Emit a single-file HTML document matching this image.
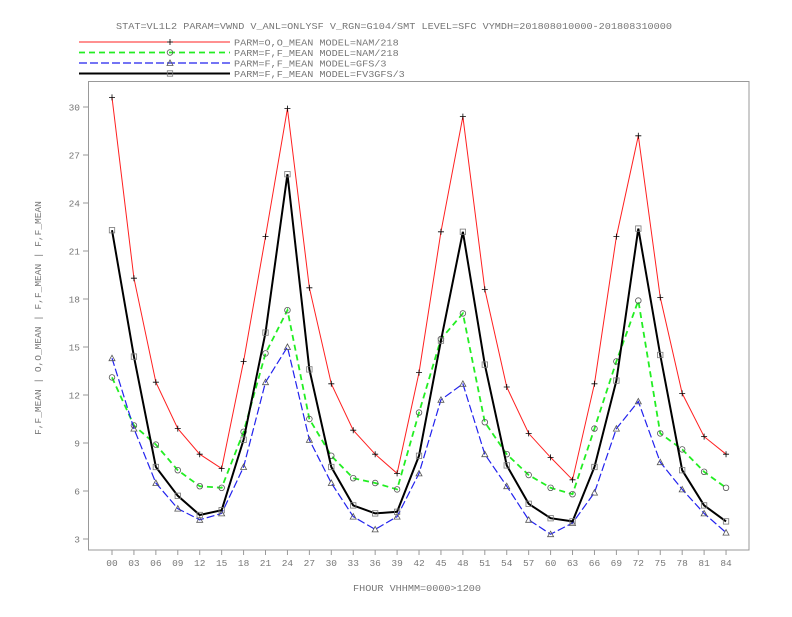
<!DOCTYPE html>
<html><head><meta charset="utf-8"><style>
body{margin:0;background:#fff}
svg text{font-family:"Liberation Mono",monospace;fill:#777;font-size:9.5px}
</style></head><body>
<svg id="c" width="792" height="612">
<text x="116" y="29" textLength="556" lengthAdjust="spacingAndGlyphs">STAT=VL1L2 PARAM=VWND V_ANL=ONLYSF V_RGN=G104/SMT LEVEL=SFC VYMDH=201808010000-201808310000</text>
<g id="legend"></g>
<rect x="88.5" y="81.5" width="660.5" height="468.5" fill="none" stroke="#999" stroke-width="1"/>
<g id="axes"></g>
<g id="series"></g>
<text x="353" y="591" textLength="128" lengthAdjust="spacingAndGlyphs">FHOUR VHHMM=0000&gt;1200</text>
<text transform="translate(41,318) rotate(-90)" text-anchor="middle">F,F_MEAN | O,O_MEAN | F,F_MEAN | F,F_MEAN</text>
</svg>
<script>
const hours=["00","03","06","09","12","15","18","21","24","27","30","33","36","39","42","45","48","51","54","57","60","63","66","69","72","75","78","81","84"];
const yTicks=[3,6,9,12,15,18,21,24,27,30];
const redVals=[30.6,19.3,12.8,9.9,8.3,7.4,14.1,21.9,29.9,18.7,12.7,9.8,8.3,7.1,13.4,22.2,29.4,18.6,12.5,9.6,8.1,6.7,12.7,21.9,28.2,18.1,12.1,9.4,8.3];
const greenVals=[13.1,10.1,8.9,7.3,6.3,6.2,9.7,14.6,17.3,10.5,8.2,6.8,6.5,6.1,10.9,15.5,17.1,10.3,8.3,7.0,6.2,5.8,9.9,14.1,17.9,9.6,8.6,7.2,6.2];
const blueVals=[14.3,9.9,6.5,4.9,4.2,4.6,7.5,12.8,15.0,9.2,6.5,4.4,3.6,4.4,7.1,11.7,12.7,8.3,6.3,4.2,3.3,4.0,5.9,9.9,11.6,7.8,6.1,4.6,3.4];
const blackVals=[22.3,14.4,7.5,5.7,4.5,4.8,9.2,15.9,25.8,13.6,7.5,5.1,4.6,4.7,8.2,15.4,22.2,13.9,7.6,5.2,4.3,4.1,7.5,12.9,22.4,14.5,7.3,5.1,4.1];
const legendLabels=["PARM=O,O_MEAN MODEL=NAM/218","PARM=F,F_MEAN MODEL=NAM/218","PARM=F,F_MEAN MODEL=GFS/3","PARM=F,F_MEAN MODEL=FV3GFS/3"];
const NS="http://www.w3.org/2000/svg";
function X(i){return 112+i*21.93;}
function Y(v){return 539-(v-3)*16;}
function mk(t,a,p){const e=document.createElementNS(NS,t);for(const k in a)e.setAttribute(k,a[k]);(p||document.getElementById('c')).appendChild(e);return e;}
const axes=document.getElementById('axes');
yTicks.forEach(v=>{
  const l=mk('line',{x1:83,x2:88.5,y1:Y(v),y2:Y(v),stroke:'#999'},axes);
  
  
  const t=mk('text',{x:80,y:Y(v)+3.5,'text-anchor':'end'},axes);t.textContent=v;
  
  
});
hours.forEach((h,i)=>{
  const l=mk('line',{x1:X(i),x2:X(i),y1:550,y2:555,stroke:'#999'},axes);
  
  
  const t=mk('text',{x:X(i),y:566,'text-anchor':'middle'},axes);t.textContent=h;
  
  
});
const series=[
 {vals:redVals,color:'#ff2020',w:1,dash:'',m:'plus',name:'nam-obs'},
 {vals:greenVals,color:'#22ee22',w:1.8,dash:'6,4',m:'circle',name:'nam-fcst'},
 {vals:blueVals,color:'#2222ee',w:1.2,dash:'8,3',m:'tri',name:'gfs-fcst'},
 {vals:blackVals,color:'#000',w:2,dash:'',m:'square',name:'fv3gfs-fcst'}];
function marker(type,x,y,g){
  if(type==='plus'){mk('path',{d:`M${x-3},${y}h6M${x},${y-3}v6`,stroke:'#000','stroke-width':0.8,fill:'none'},g);}
  else if(type==='circle'){mk('circle',{cx:x,cy:y,r:2.8,fill:'none',stroke:'#555','stroke-width':0.8},g);}
  else if(type==='tri'){mk('path',{d:`M${x},${y-3}L${x+3},${y+2.5}L${x-3},${y+2.5}Z`,fill:'none',stroke:'#555','stroke-width':0.8},g);}
  else {mk('rect',{x:x-2.7,y:y-2.7,width:5.4,height:5.4,fill:'none',stroke:'#777','stroke-width':0.8},g);}
}
const sg=document.getElementById('series');
series.forEach(s=>{
  const g=mk('g',{},sg);
  
  
  const pl=mk('polyline',{points:s.vals.map((v,i)=>X(i)+','+Y(v)).join(' '),fill:'none',stroke:s.color,'stroke-width':s.w,'stroke-dasharray':s.dash},g);
  
  
  s.vals.forEach((v,i)=>marker(s.m,X(i),Y(v),g));
});
const lg=document.getElementById('legend');
series.forEach((s,k)=>{
  const y=42+k*10.5;
  const g=mk('g',{},lg);
  
  
  mk('line',{x1:79,x2:230,y1:y,y2:y,stroke:s.color,'stroke-width':s.w,'stroke-dasharray':s.dash},g);
  marker(s.m,170,y,g);
  const t=mk('text',{x:234,y:y+3.5,textLength:legendLabels[k].length*6.1,lengthAdjust:'spacingAndGlyphs'},g);t.textContent=legendLabels[k];
});
</script>
</body></html>
